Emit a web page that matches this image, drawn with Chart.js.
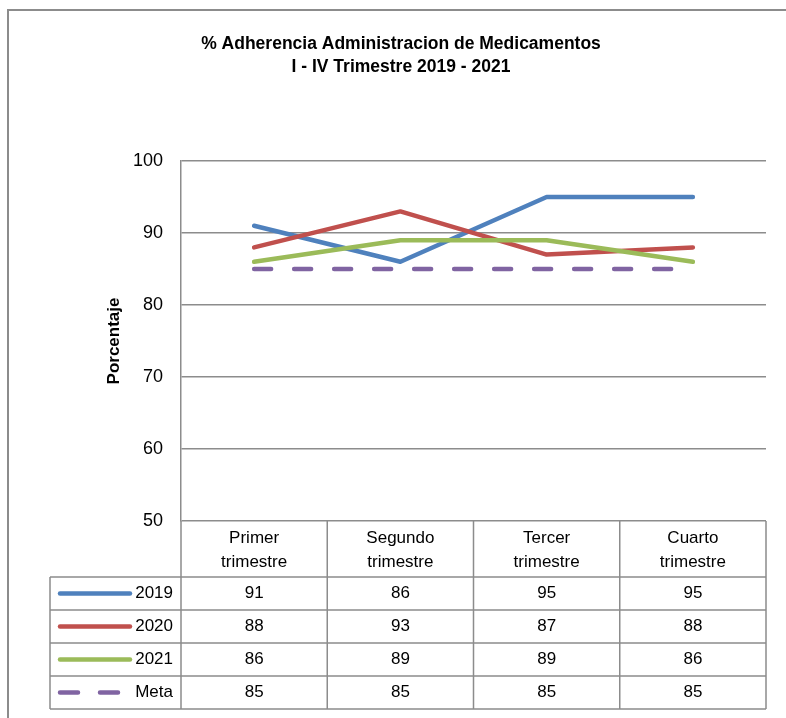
<!DOCTYPE html>
<html>
<head>
<meta charset="utf-8">
<script src="https://cdn.jsdelivr.net/npm/chart.js@4"></script>
<style>
  body { margin: 0; background: #fff; }
  #wrap { width: 786px; height: 718px; position: relative; }
</style>
</head>
<body>
<div id="wrap"><canvas id="myChart"></canvas></div>
<script>
// datos del grafico
const trimestres = [['Primer', 'trimestre'], ['Segundo', 'trimestre'], ['Tercer', 'trimestre'], ['Cuarto', 'trimestre']];
const series = ['2019', '2020', '2021', 'Meta'];
const v2019 = [91, 86, 95, 95];
const v2020 = [88, 93, 87, 88];
const v2021 = [86, 89, 89, 86];
const meta = [85, 85, 85, 85];
const yTicks = [50, 60, 70, 80, 90, 100];
const titulo = ['% Adherencia Administracion de Medicamentos', 'I - IV Trimestre 2019 - 2021'];

const colores = ['#4f81bd', '#c0504d', '#9bbb59', '#8064a2'];
const valores = [v2019, v2020, v2021, meta];
const fuente = "'Liberation Sans', Arial, sans-serif";
const gris = '#8c8c8c';

// marco, titulo y tabla de datos
const tablaPlugin = {
  id: 'tablaDatos',
  beforeDraw(chart) {
    const ctx = chart.ctx;
    ctx.save();
    ctx.strokeStyle = gris;
    ctx.lineWidth = 2;
    ctx.beginPath();
    ctx.moveTo(8, 718);
    ctx.lineTo(8, 10);
    ctx.lineTo(786, 10);
    ctx.stroke();
    ctx.fillStyle = '#000';
    ctx.font = 'bold 17.5px ' + fuente;
    ctx.textAlign = 'center';
    ctx.textBaseline = 'middle';
    ctx.fillText(titulo[0], 401, 44);
    ctx.fillText(titulo[1], 401, 67);
    ctx.restore();
  },
  afterDraw(chart) {
    const ctx = chart.ctx;
    const x = chart.scales.x;
    const area = chart.chartArea;
    const paso = x.getPixelForValue(1) - x.getPixelForValue(0);
    const top = area.bottom;
    const headH = 56, rowH = 33;
    const left = 50;
    const bordes = [area.left];
    trimestres.forEach((t, i) => bordes.push(x.getPixelForValue(i) + paso / 2));
    const bottom = top + headH + rowH * series.length;

    ctx.save();
    ctx.strokeStyle = gris;
    ctx.lineWidth = 1.5;
    ctx.beginPath();
    bordes.forEach(bx => { ctx.moveTo(bx, top); ctx.lineTo(bx, bottom); });
    ctx.moveTo(left, top + headH); ctx.lineTo(left, bottom);
    for (let r = 0; r <= series.length; r++) {
      const y = top + headH + r * rowH;
      ctx.moveTo(left, y); ctx.lineTo(bordes[bordes.length - 1], y);
    }
    ctx.stroke();

    ctx.fillStyle = '#000';
    ctx.font = '17px ' + fuente;
    ctx.textAlign = 'center';
    ctx.textBaseline = 'middle';
    trimestres.forEach((t, i) => {
      const cx = x.getPixelForValue(i);
      ctx.fillText(t[0], cx, top + 17);
      ctx.fillText(t[1], cx, top + 41);
    });

    series.forEach((s, r) => {
      const cy = top + headH + r * rowH + rowH / 2;
      valores[r].forEach((v, i) => {
        ctx.textAlign = 'center';
        ctx.fillText(String(v), x.getPixelForValue(i), cy);
      });
      ctx.textAlign = 'right';
      ctx.fillText(s, area.left - 8, cy);
      // muestra de la leyenda
      ctx.save();
      ctx.strokeStyle = colores[r];
      ctx.lineWidth = 4.5;
      ctx.lineCap = 'round';
      if (s === 'Meta') ctx.setLineDash([18, 22]);
      ctx.beginPath();
      ctx.moveTo(left + 10, cy);
      ctx.lineTo(left + 80, cy);
      ctx.stroke();
      ctx.restore();
    });
    ctx.restore();
  }
};

const ctx = document.getElementById('myChart').getContext('2d');
const chart = new Chart(ctx, {
  type: 'line',
  data: {
    labels: trimestres,
    datasets: series.map((s, i) => ({
      label: s,
      data: valores[i],
      borderColor: colores[i],
      backgroundColor: colores[i],
      borderWidth: 4.5,
      borderCapStyle: 'round',
      borderJoinStyle: 'round',
      borderDash: s === 'Meta' ? [17, 23] : [],
      pointRadius: 0,
      tension: 0,
      order: series.length - i
    }))
  },
  options: {
    responsive: true,
    maintainAspectRatio: false,
    animation: false,
    layout: { padding: { top: 161, left: 100, right: 20, bottom: 197 } },
    plugins: {
      legend: { display: false },
      title: { display: false },
      tooltip: { enabled: false }
    },
    scales: {
      x: {
        display: false,
        offset: true
      },
      y: {
        min: 50,
        max: 100,
        afterBuildTicks: scale => { scale.ticks = yTicks.map(v => ({ value: v })); },
        afterFit: scale => { scale.width = 81; },
        ticks: { padding: 18, color: '#000', font: { family: fuente, size: 18 } },
        grid: { color: gris, lineWidth: 1.5, drawTicks: false },
        border: { color: gris, width: 1.5 },
        title: {
          display: true,
          text: 'Porcentaje',
          color: '#000',
          font: { family: fuente, size: 17, weight: 'bold' },
          padding: { top: 4, bottom: 0 }
        }
      }
    }
  },
  plugins: [tablaPlugin]
});
</script>
</body>
</html>
